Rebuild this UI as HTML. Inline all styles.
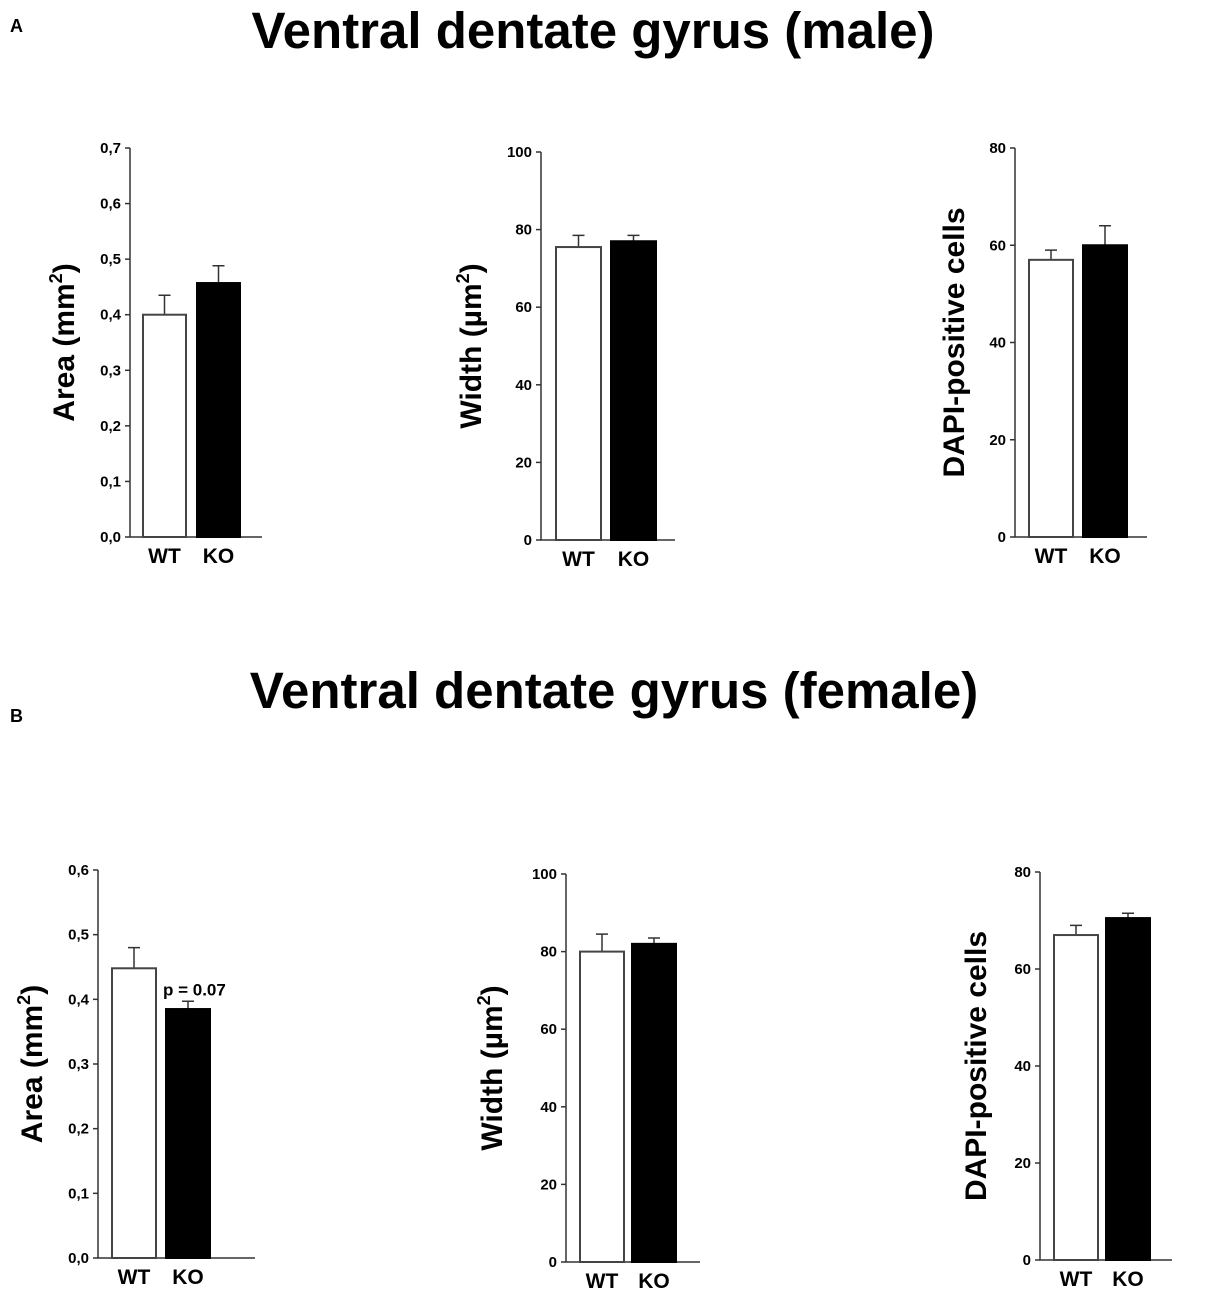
<!DOCTYPE html>
<html><head><meta charset="utf-8"><style>
body{margin:0;background:#fff;width:1214px;height:1300px;overflow:hidden}
svg{font-family:"Liberation Sans",Arial,sans-serif;font-weight:bold}
</style></head><body>
<svg id="fig" width="1214" height="1300" viewBox="0 0 1214 1300">
<text x="10" y="32" font-size="18">A</text>
<text x="593" y="48" font-size="51" text-anchor="middle">Ventral dentate gyrus (male)</text>
<text x="10" y="722" font-size="18">B</text>
<text x="614" y="708" font-size="51" text-anchor="middle">Ventral dentate gyrus (female)</text>
</svg>
<script>
const categories = ["WT","KO"];
const maleAreaValues = [0.40, 0.457];
const maleAreaErrors = [0.035, 0.031];
const maleWidthValues = [75.5, 77];
const maleWidthErrors = [3, 1.5];
const maleDapiValues = [57, 60];
const maleDapiErrors = [2, 4];
const femaleAreaValues = [0.448, 0.385];
const femaleAreaErrors = [0.032, 0.012];
const femaleWidthValues = [80, 82];
const femaleWidthErrors = [4.5, 1.5];
const femaleDapiValues = [67, 70.5];
const femaleDapiErrors = [2, 1];
const areaMaleTicks = ["0,0","0,1","0,2","0,3","0,4","0,5","0,6","0,7"];
const areaFemaleTicks = ["0,0","0,1","0,2","0,3","0,4","0,5","0,6"];
const widthTicks = ["0","20","40","60","80","100"];
const dapiTicks = ["0","20","40","60","80"];

const NS="http://www.w3.org/2000/svg";
const svg=document.getElementById('fig');
function mk(tag,attrs,parent){const e=document.createElementNS(NS,tag);for(const k in attrs)e.setAttribute(k,attrs[k]);(parent||svg).appendChild(e);return e;}

function chart(cfg){
  const g=mk('g',{});
  
  
  const {ax,top,bot,xEnd,max,ticks,values,errors,barX,barW,label,labelX,labelSize}=cfg;
  const y=v=>bot-(v/max)*(bot-top);
  const axis=mk('path',{d:`M${ax} ${top}V${bot}H${xEnd}`,stroke:'#333',fill:'none','stroke-width':1.5},g);
  
  
  ticks.forEach((t,i)=>{
    const v=i*max/(ticks.length-1);const yy=y(v);
    mk('line',{x1:ax-5,x2:ax,y1:yy,y2:yy,stroke:'#333','stroke-width':1.5},g);
    const tx=mk('text',{x:ax-9,y:yy+5,'font-size':15,'text-anchor':'end'},g);
    tx.textContent=t;
    
    
  });
  values.forEach((v,i)=>{
    const x=barX[i],cx=x+barW/2;
    const et=y(v+errors[i]);
    const el=mk('path',{d:`M${cx} ${y(v)}V${et}M${cx-6} ${et}H${cx+6}`,stroke:'#333','stroke-width':1.5,fill:'none'},g);
    
    
    const r=mk('rect',{x:x,y:y(v),width:barW,height:bot-y(v),fill:i==0?'#fff':'#000',stroke:i==0?'#444':'#000','stroke-width':2},g);
    
    
    const c=mk('text',{x:cx,y:bot+26,'font-size':21,'text-anchor':'middle'},g);
    c.textContent=categories[i];
    
    
  });
  const cy=(top+bot)/2;
  const yl=mk('text',{x:labelX,y:cy,'font-size':labelSize,'text-anchor':'middle',transform:`rotate(-90 ${labelX} ${cy})`},g);
  yl.innerHTML=label;
  
  
  return y;
}
const areaLbl='Area (mm<tspan font-size="18" dy="-12">2</tspan><tspan dy="12">)</tspan>';
const widthLbl='Width (µm<tspan font-size="18" dy="-12">2</tspan><tspan dy="12">)</tspan>';
chart({name:'chart-male-area',ax:130,top:148,bot:537,xEnd:262,max:0.7,ticks:areaMaleTicks,values:maleAreaValues,errors:maleAreaErrors,barX:[143,197],barW:43,label:areaLbl,labelX:74,labelSize:30});
chart({name:'chart-male-width',ax:541,top:152,bot:540,xEnd:675,max:100,ticks:widthTicks,values:maleWidthValues,errors:maleWidthErrors,barX:[556,611],barW:45,label:widthLbl,labelX:481,labelSize:30});
chart({name:'chart-male-dapi',ax:1015,top:148,bot:537,xEnd:1147,max:80,ticks:dapiTicks,values:maleDapiValues,errors:maleDapiErrors,barX:[1029,1083],barW:44,label:'DAPI-positive cells',labelX:964,labelSize:30});
const yF=chart({name:'chart-female-area',ax:98,top:870,bot:1258,xEnd:255,max:0.6,ticks:areaFemaleTicks,values:femaleAreaValues,errors:femaleAreaErrors,barX:[112,166],barW:44,label:areaLbl,labelX:42,labelSize:30});
chart({name:'chart-female-width',ax:566,top:874,bot:1262,xEnd:700,max:100,ticks:widthTicks,values:femaleWidthValues,errors:femaleWidthErrors,barX:[580,632],barW:44,label:widthLbl,labelX:502,labelSize:30});
chart({name:'chart-female-dapi',ax:1040,top:872,bot:1260,xEnd:1172,max:80,ticks:dapiTicks,values:femaleDapiValues,errors:femaleDapiErrors,barX:[1054,1106],barW:44,label:'DAPI-positive cells',labelX:986,labelSize:30});
const p=mk('text',{x:163,y:yF(femaleAreaValues[1]+femaleAreaErrors[1])-6,'font-size':17});
p.textContent='p = 0.07';


</script>
</body></html>
